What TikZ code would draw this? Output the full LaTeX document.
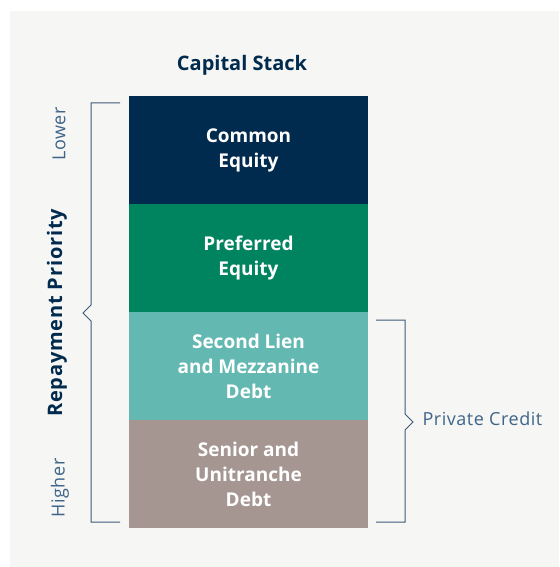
\documentclass[tikz,border=0pt]{standalone}
\usepackage{fontspec}
\setmainfont{Open Sans}
\usetikzlibrary{positioning}

\definecolor{navy}{HTML}{002B4E}
\definecolor{pgreen}{HTML}{00845F}
\definecolor{teal}{HTML}{63B9B2}
\definecolor{taupe}{HTML}{A59692}
\definecolor{bggray}{HTML}{F6F6F4}
\definecolor{softblue}{HTML}{3E6589}
\definecolor{bracket}{HTML}{3E5A78}

\tikzset{
  layer/.style={minimum width=239pt, minimum height=108pt, inner sep=0pt, outer sep=0pt,
    align=center, text=white, font=\fontsize{19}{25}\selectfont\bfseries},
  brace/.style={draw=bracket, line width=1pt},
  side/.style={text=softblue, font=\fontsize{18}{21}\selectfont\addfontfeature{LetterSpace=3}}
}

\begin{document}
\begin{tikzpicture}[x=1pt,y=-1pt]
        \useasboundingbox (0,0) rectangle (559,567);
        \fill[bggray] (10,11) rectangle (559,567);

        \node (title) [text=navy, font=\fontsize{20}{24}\selectfont\bfseries] at (242,65) {Capital Stack};

        %the stack
        \node (common) [layer, fill=navy, anchor=north west] at (129,96) {Common\\Equity};
        \node (preferred) [layer, fill=pgreen, below=0pt of common] {Preferred\\Equity};
        \node (second) [layer, fill=teal, below=0pt of preferred] {Second Lien\\and Mezzanine\\Debt};
        \node (senior) [layer, fill=taupe, below=0pt of second] {Senior and\\Unitranche\\Debt};

        %left brace
        \draw[brace] (120,103) -- (91,103) -- (91,305) -- (83,313) -- (91,321) -- (91,522) -- (120,522);
        \node (priority) [rotate=90, text=navy, font=\fontsize{20}{24}\selectfont\bfseries\addfontfeature{LetterSpace=4}] at (57,313) {Repayment Priority};
        \node (lower) [side, rotate=90] at (59,134) {Lower};
        \node (higher) [side, rotate=90] at (60,488) {Higher};

        %right brace
        \draw[brace] (376,320) -- (405,320) -- (405,414) -- (413,422) -- (405,430) -- (405,522) -- (376,522);
        \node (credit) [side, anchor=west] at (419,419) {Private Credit};
\end{tikzpicture}
\end{document}
